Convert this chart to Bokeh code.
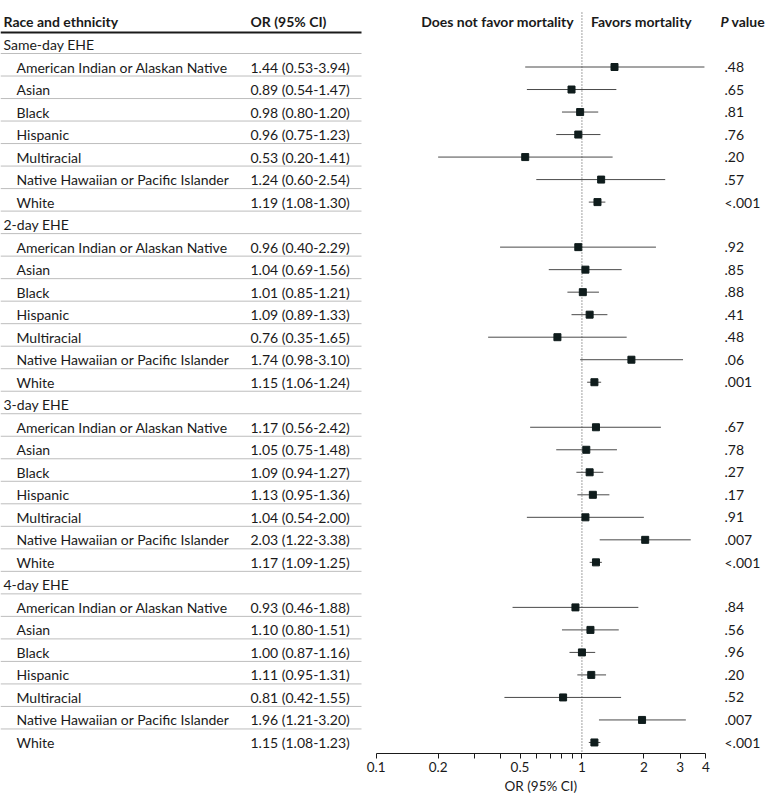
from bokeh.plotting import figure
from bokeh.models import Range1d, LinearScale, FixedTicker, CustomJSTickFormatter, ColumnDataSource, Title
from bokeh.core.properties import value
from bokeh.embed import file_html
from bokeh.resources import INLINE

groups = ["Same-day EHE", "2-day EHE", "3-day EHE", "4-day EHE"]
races = ["American Indian or Alaskan Native", "Asian", "Black", "Hispanic",
         "Multiracial", "Native Hawaiian or Pacific Islander", "White"]
or_vals = [[1.44, 0.89, 0.98, 0.96, 0.53, 1.24, 1.19],
           [0.96, 1.04, 1.01, 1.09, 0.76, 1.74, 1.15],
           [1.17, 1.05, 1.09, 1.13, 1.04, 2.03, 1.17],
           [0.93, 1.10, 1.00, 1.11, 0.81, 1.96, 1.15]]
ci_low = [[0.53, 0.54, 0.80, 0.75, 0.20, 0.60, 1.08],
          [0.40, 0.69, 0.85, 0.89, 0.35, 0.98, 1.06],
          [0.56, 0.75, 0.94, 0.95, 0.54, 1.22, 1.09],
          [0.46, 0.80, 0.87, 0.95, 0.42, 1.21, 1.08]]
ci_high = [[3.94, 1.47, 1.20, 1.23, 1.41, 2.54, 1.30],
           [2.29, 1.56, 1.21, 1.33, 1.65, 3.10, 1.24],
           [2.42, 1.48, 1.27, 1.36, 2.00, 3.38, 1.25],
           [1.88, 1.51, 1.16, 1.31, 1.55, 3.20, 1.23]]
p_values = [[".48", ".65", ".81", ".76", ".20", ".57", "<.001"],
            [".92", ".85", ".88", ".41", ".48", ".06", ".001"],
            [".67", ".78", ".27", ".17", ".91", ".007", "<.001"],
            [".84", ".56", ".96", ".20", ".52", ".007", "<.001"]]
major_ticks = [0.1, 0.2, 0.5, 1, 2, 3, 4]
minor_ticks = [0.3, 0.4, 0.6, 0.7, 0.8, 0.9]

FONT = value("Lato")
TXT = "#1a1a1a"

# build row tables
grp_rows, grp_labels = [], []
item_rows, item_labels, item_or, item_lo, item_hi, item_p, item_ci = [], [], [], [], [], [], []
r = 0
for g, name in enumerate(groups):
    grp_rows.append(r)
    grp_labels.append(name)
    r += 1
    for i, race in enumerate(races):
        item_rows.append(r)
        item_labels.append(race)
        item_or.append(or_vals[g][i])
        item_lo.append(ci_low[g][i])
        item_hi.append(ci_high[g][i])
        item_p.append(p_values[g][i])
        item_ci.append(f"{or_vals[g][i]:.2f} ({ci_low[g][i]:.2f}-{ci_high[g][i]:.2f})")
        r += 1
n_rows = r

items = ColumnDataSource(dict(y=item_rows, label=item_labels, orv=item_or, lo=item_lo,
                              hi=item_hi, p=item_p, ci=item_ci))
grps = ColumnDataSource(dict(y=grp_rows, label=grp_labels))

p = figure(width=780, height=805, x_axis_type="log",
           x_range=Range1d(0.001492, 9.230), y_range=Range1d(31.49, -1.954),
           output_backend="svg", toolbar_location=None, y_axis_location=None,
           min_border_left=0, min_border_right=0, min_border_top=0, min_border_bottom=52)
p.extra_x_ranges = {"tab": Range1d(0, 780)}
p.extra_x_scales = {"tab": LinearScale()}
p.outline_line_color = None
p.xgrid.visible = False
p.ygrid.visible = False
p.background_fill_color = "white"
p.border_fill_color = "white"

# table separators
sep_y = [rr + 0.4 for rr in range(n_rows - 1)]
p.segment(x0=[0] * len(sep_y), x1=[361] * len(sep_y), y0=sep_y, y1=sep_y,
          x_range_name="tab", line_color="#bdbdbd", line_width=1)
p.segment(x0=[0], x1=[361], y0=[-0.53], y1=[-0.53], x_range_name="tab",
          line_color="#1a1a1a", line_width=2)

# header texts
p.text(x=[3], y=[-1], text=["Race and ethnicity"], x_range_name="tab", text_font=FONT,
       text_font_size=value("14px"), text_font_style="bold", text_baseline="middle", text_color=TXT)
p.text(x=[250], y=[-1], text=["OR (95% CI)"], x_range_name="tab", text_font=FONT,
       text_font_size=value("14px"), text_font_style="bold", text_baseline="middle", text_color=TXT)
p.text(x=[1], y=[-1], text=["Does not favor mortality"], x_offset=-8, text_align="right",
       text_font=FONT, text_font_size=value("14px"), text_font_style="bold",
       text_baseline="middle", text_color=TXT)
p.text(x=[1], y=[-1], text=["Favors mortality"], x_offset=9, text_align="left",
       text_font=FONT, text_font_size=value("14px"), text_font_style="bold",
       text_baseline="middle", text_color=TXT)
p.text(x=[720], y=[-1], text=["P"], x_range_name="tab", text_font=FONT,
       text_font_size=value("14px"), text_font_style="bold italic", text_baseline="middle", text_color=TXT)
p.text(x=[731], y=[-1], text=["value"], x_range_name="tab", text_font=FONT,
       text_font_size=value("14px"), text_font_style="bold", text_baseline="middle", text_color=TXT)

# group and item labels
p.text(x=3, y="y", text="label", source=grps, x_range_name="tab", text_font=FONT,
       text_font_size=value("14px"), text_baseline="middle", text_color=TXT)
p.text(x=16, y="y", text="label", source=items, x_range_name="tab", text_font=FONT,
       text_font_size=value("14px"), text_baseline="middle", text_color=TXT)
p.text(x=250, y="y", text="ci", source=items, x_range_name="tab", text_font=FONT,
       text_font_size=value("14px"), text_baseline="middle", text_color=TXT)
p.text(x=724, y="y", text="p", source=items, x_range_name="tab", text_font=FONT,
       text_font_size=value("14px"), text_baseline="middle", text_color=TXT)

# reference line
p.segment(x0=[1], x1=[1], y0=[-1.42], y1=[31.49], line_color="#444444",
          line_width=1, line_dash="1 2")

# whiskers and markers
p.segment(x0="lo", x1="hi", y0="y", y1="y", source=items, line_color="#4a4a4a", line_width=1)
p.scatter(x="orv", y="y", source=items, marker="square", size=7,
          fill_color="#0f1c1c", line_color="#0f1c1c")

ax = p.xaxis[0]
ax.bounds = (0.1, 4)
ax.ticker = FixedTicker(ticks=major_ticks, minor_ticks=minor_ticks)
ax.formatter = CustomJSTickFormatter(code="return String(tick);")
ax.major_tick_in = 0
ax.major_tick_out = 5
ax.minor_tick_in = 0
ax.minor_tick_out = 5
ax.axis_line_color = "#1a1a1a"
ax.major_tick_line_color = "#1a1a1a"
ax.minor_tick_line_color = "#1a1a1a"
ax.major_label_text_font = "Lato"
ax.major_label_text_font_size = "13.5px"
ax.major_label_text_color = TXT
ax.major_label_standoff = 3

# axis title centred under the bounded axis (placed in the bottom panel)
p.add_layout(Title(text="OR (95% CI)", align="left", offset=504, standoff=2,
                   text_font="Lato", text_font_size="13.5px", text_font_style="normal",
                   text_color=TXT), "below")

open("out.html", "w").write(file_html(p, INLINE))
